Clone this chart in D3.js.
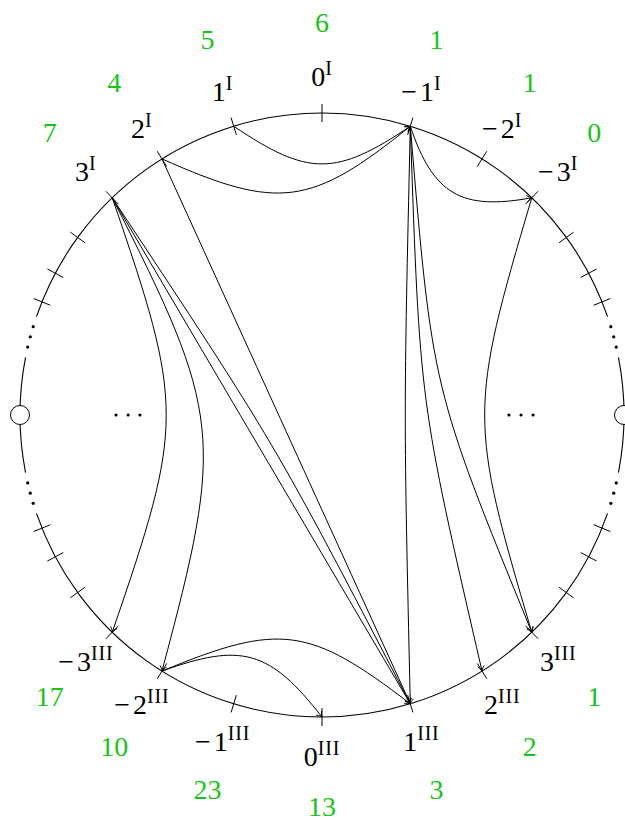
<!DOCTYPE html>
<html>
<head>
<meta charset="utf-8">
<script src="https://cdn.jsdelivr.net/npm/d3@7"></script>
<style>
  body { margin: 0; background: #fff; }
  text { font-family: "Liberation Serif", serif; }
</style>
</head>
<body>
<div class="chart"></div>
<script>
// angles of the marked points, measured from the vertical axis, in degrees
const tickAngles = [0, 17, 32, 44, 54, 62, 68];
const dotAngles = [73, 75, 77];
const labelNums = [-3, -2, -1, 0, 1, 2, 3];
const countsI = [0, 1, 1, 6, 5, 4, 7];
const countsIII = [17, 10, 23, 13, 3, 2, 1];
// [from, to, bend in degrees (+ = to the right of travel)]
const edges = [
  ['1I', '-1I', 34],
  ['2I', '-1I', 31.5],
  ['-1I', '-3I', 41],
  ['-1I', '1III', 1.3],
  ['-1I', '2III', 5.5],
  ['-1I', '3III', 8.7],
  ['-3I', '3III', 16.5],
  ['3I', '-3III', -19],
  ['3I', '-2III', -21],
  ['3I', '1III', 0],
  ['3I', '1III', -3],
  ['2I', '1III', 0],
  ['-2III', '1III', -30],
  ['-2III', '0III', -36]
];
const sideDotsLeft = [-0.682, -0.642, -0.603];
const sideDotsRight = [0.619, 0.659, 0.699];

const width = 625;
const height = 820;
const cx = 322, cy = 415, R = 302;
const green = '#17c417';

const svg = d3.select('.chart')
              .append('svg')
              .attr('width', width)
              .attr('height', height);

const x = d3.scaleLinear().domain([-1, 1]).range([cx - R, cx + R]);
const y = d3.scaleLinear().domain([-1, 1]).range([cy - R, cy + R]);
const rad = d => d * Math.PI / 180;
const pt = (deg, r = 1) => [x(r * Math.sin(rad(deg))), y(-r * Math.cos(rad(deg)))];

const angleI = n => n > 0 ? -tickAngles[n] : tickAngles[-n];
const angleIII = n => n > 0 ? 180 - tickAngles[n] : 180 + tickAngles[-n];

const vertices = [];
labelNums.forEach((n, i) => {
  vertices.push({key: n + 'I', num: n, sup: 'I', angle: angleI(n), count: countsI[i]});
  vertices.push({key: n + 'III', num: n, sup: 'III', angle: angleIII(n), count: countsIII[i]});
});
const vmap = new Map(vertices.map(v => [v.key, v]));

svg.append('defs').append('marker')
   .attr('id', 'to')
   .attr('viewBox', '-6 -4 7 8')
   .attr('refX', 0).attr('refY', 0)
   .attr('markerUnits', 'userSpaceOnUse')
   .attr('markerWidth', 7).attr('markerHeight', 8)
   .attr('orient', 'auto')
   .append('path')
   .attr('d', 'M-5,-3.4 C-3,-1.3 -1,-0.3 0,0 C-1,0.3 -3,1.3 -5,3.4')
   .attr('fill', 'none')
   .attr('stroke', '#000')
   .attr('stroke-width', 0.9);

// circle, broken where the dots are
const arcs = [[-71, 71], [79, 101], [109, 251], [259, 281]];
svg.selectAll('path.rim')
   .data(arcs)
   .enter().append('path')
   .attr('class', 'rim')
   .attr('d', d => {
     const p = d3.path();
     const a0 = rad(d[0] - 90), a1 = rad(d[1] - 90);
     p.moveTo(cx + R * Math.cos(a0), cy + R * Math.sin(a0));
     p.arc(cx, cy, R, a0, a1);
     return p.toString();
   })
   .attr('fill', 'none')
   .attr('stroke', '#000')
   .attr('stroke-width', 1.1);

// ticks
const allTicks = [];
tickAngles.forEach(a => {
  [a, -a, 180 + a, 180 - a].forEach(b => { if (!allTicks.includes(b)) allTicks.push(b); });
});
svg.selectAll('line.tick')
   .data(allTicks)
   .enter().append('line')
   .attr('class', 'tick')
   .attr('x1', d => pt(d, 1 - 9 / R)[0])
   .attr('y1', d => pt(d, 1 - 9 / R)[1])
   .attr('x2', d => pt(d, 1 + 9 / R)[0])
   .attr('y2', d => pt(d, 1 + 9 / R)[1])
   .attr('stroke', '#000')
   .attr('stroke-width', 1);

// dots along the rim
const allDots = [];
dotAngles.forEach(a => [a, 180 - a, 180 + a, 360 - a].forEach(b => allDots.push(b)));
svg.selectAll('circle.rimdot')
   .data(allDots)
   .enter().append('circle')
   .attr('class', 'rimdot')
   .attr('cx', d => pt(d)[0])
   .attr('cy', d => pt(d)[1])
   .attr('r', 1.6)
   .attr('fill', '#000');

// dots inside
svg.selectAll('circle.middot')
   .data(sideDotsLeft.concat(sideDotsRight))
   .enter().append('circle')
   .attr('class', 'middot')
   .attr('cx', d => x(d))
   .attr('cy', y(0))
   .attr('r', 1.6)
   .attr('fill', '#000');

// edges
function edgePath(a, b, bend, loose = 1.3) {
  const [x0, y0] = a, [x3, y3] = b;
  const dx = x3 - x0, dy = y3 - y0, L = Math.hypot(dx, dy);
  const ux = dx / L, uy = dy / L, nx = -uy, ny = ux;
  const t = rad(bend), k = 0.3915 * loose * L;
  const c = Math.cos(t), s = Math.sin(t);
  const p = d3.path();
  p.moveTo(x0, y0);
  p.bezierCurveTo(x0 + k * (ux * c + nx * s), y0 + k * (uy * c + ny * s),
                  x3 + k * (-ux * c + nx * s), y3 + k * (-uy * c + ny * s), x3, y3);
  return p.toString();
}

svg.selectAll('path.edge')
   .data(edges)
   .enter().append('path')
   .attr('class', 'edge')
   .attr('d', d => edgePath(pt(vmap.get(d[0]).angle), pt(vmap.get(d[1]).angle), d[2]))
   .attr('fill', 'none')
   .attr('stroke', '#000')
   .attr('stroke-width', 1)
   .attr('marker-end', 'url(#to)');

// punctures
svg.selectAll('circle.hole')
   .data([90, 270])
   .enter().append('circle')
   .attr('class', 'hole')
   .attr('cx', d => pt(d)[0])
   .attr('cy', d => pt(d)[1])
   .attr('r', 9.5)
   .attr('fill', '#fff')
   .attr('stroke', '#000')
   .attr('stroke-width', 1);

// vertex labels
const labels = svg.selectAll('text.vlabel')
   .data(vertices)
   .enter().append('text')
   .attr('class', 'vlabel')
   .attr('x', d => pt(d.angle, 340 / R)[0])
   .attr('y', d => pt(d.angle, 340 / R)[1] + 11)
   .attr('text-anchor', 'middle')
   .attr('font-size', 28)
   .attr('fill', '#000');
labels.append('tspan')
   .text(d => d.num < 0 ? '\u2212' : '');
labels.append('tspan')
   .attr('dx', d => d.num < 0 ? 3 : 0)
   .text(d => Math.abs(d.num));
labels.append('tspan')
   .attr('dy', -11)
   .attr('font-size', 20)
   .attr('letter-spacing', 0.8)
   .text(d => d.sup);

// counts
svg.selectAll('text.count')
   .data(vertices)
   .enter().append('text')
   .attr('class', 'count')
   .attr('x', d => pt(d.angle, 392 / R)[0])
   .attr('y', d => pt(d.angle, 392 / R)[1] + 9)
   .attr('text-anchor', 'middle')
   .attr('font-size', 28)
   .attr('fill', green)
   .text(d => d.count);
</script>
</body>
</html>
